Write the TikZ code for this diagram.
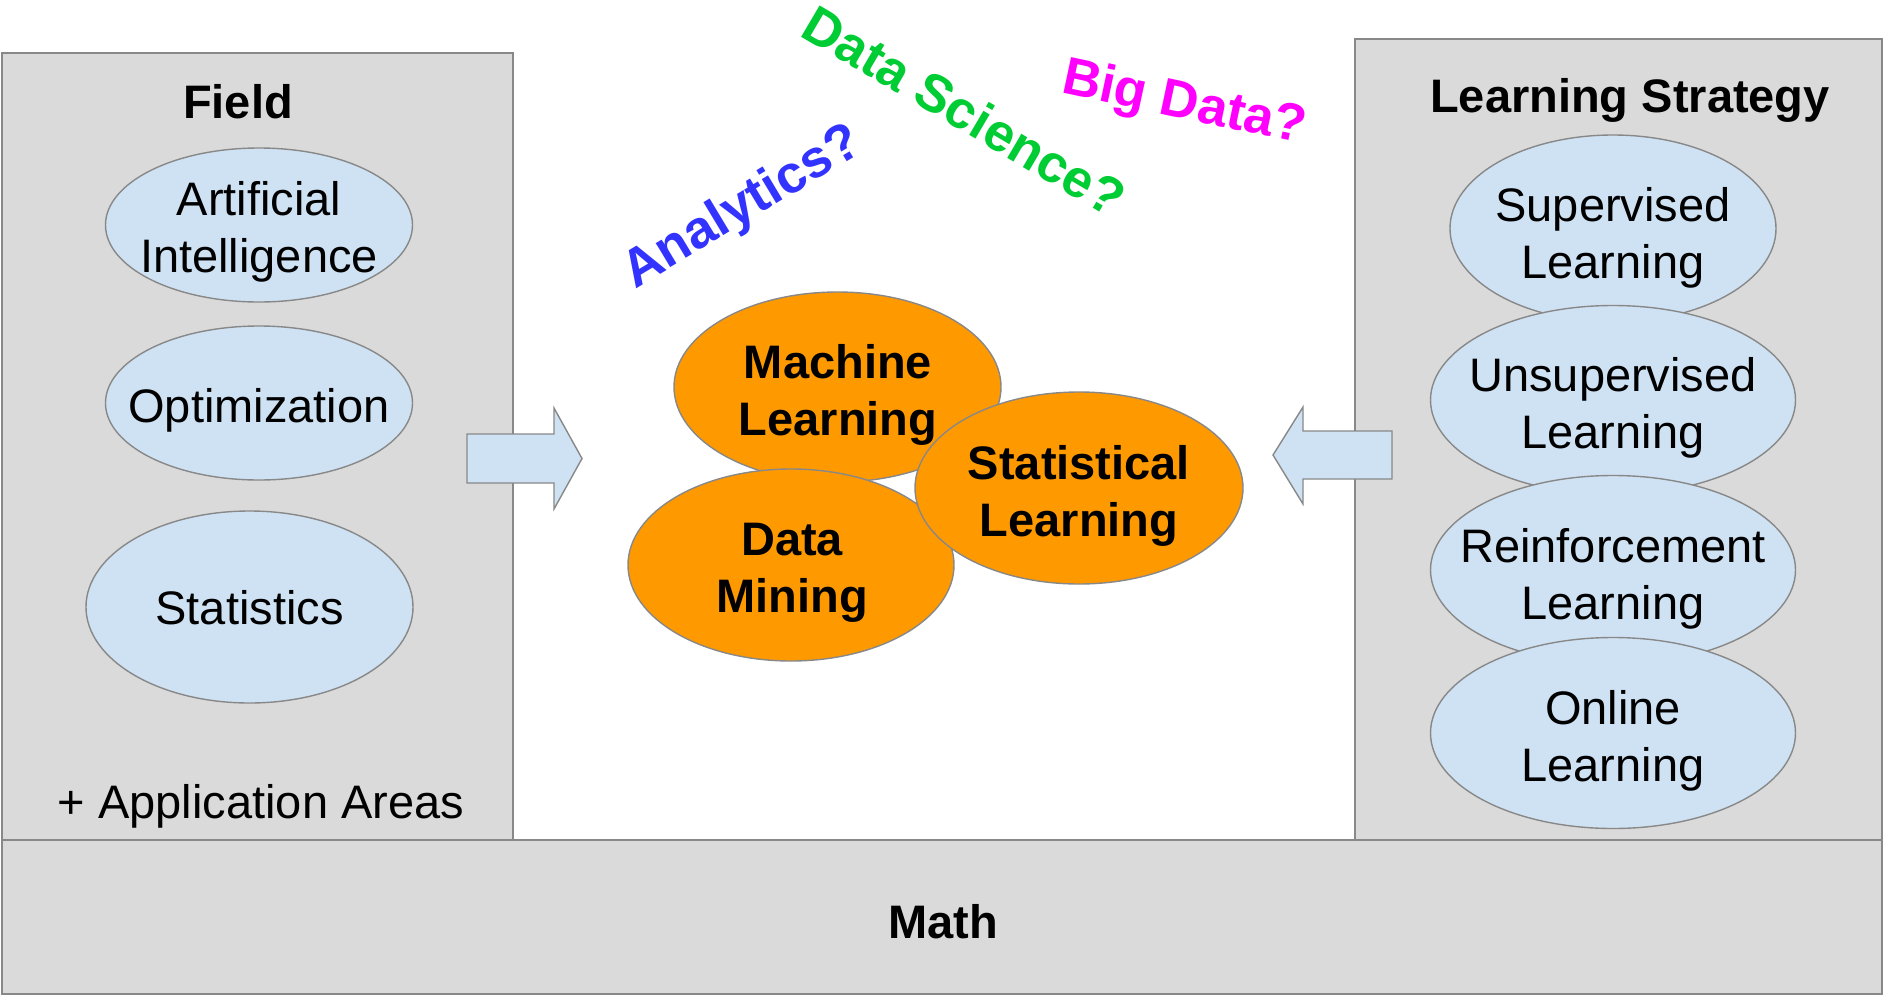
\documentclass[tikz,border=0pt]{standalone}
\usepackage{fontspec}
\setmainfont{Liberation Sans}
\usetikzlibrary{shapes.geometric}
\definecolor{boxgray}{RGB}{218,218,218}
\definecolor{edgegray}{RGB}{136,136,136}
\definecolor{lblue}{RGB}{207,226,243}
\definecolor{orng}{RGB}{255,153,0}
\definecolor{qblue}{RGB}{51,51,255}
\definecolor{qgreen}{RGB}{0,204,51}
\definecolor{qmag}{RGB}{255,0,255}
\begin{document}
\begin{tikzpicture}[x=1pt,y=-1pt,
  panel/.style={rectangle,draw=edgegray,fill=boxgray,line width=1.6pt,inner sep=0pt,anchor=north west},
  ellbase/.style={ellipse,draw=edgegray,line width=1.4pt,inner sep=0pt},
  blueell/.style={ellbase,fill=lblue},
  orangeell/.style={ellbase,fill=orng},
  txt/.style={font=\fontsize{47}{57}\selectfont,align=center,inner sep=0pt},
  btxt/.style={font=\fontsize{47}{57}\selectfont\bfseries,align=center,inner sep=0pt},
  quest/.style={font=\fontsize{53}{63}\selectfont\bfseries,inner sep=0pt,anchor=base},
  blockarrow/.style={draw=edgegray,fill=lblue,line width=1.4pt,line join=miter}]

\useasboundingbox (0,0) rectangle (1883,994);
\fill[white] (0,0) rectangle (1883,994);

% panels
\node[panel,minimum width=511pt,minimum height=787pt] (field) at (1,52) {};
\node[panel,minimum width=527pt,minimum height=801pt] (strategy) at (1354,38) {};
\node[panel,minimum width=1880pt,minimum height=154pt] (math) at (1,839) {};

% titles
\node[btxt,anchor=base] (fieldtitle) at (238,118) {Field};
\node[btxt,anchor=base] (strattitle) at (1630,112) {Learning Strategy};
\node[txt,anchor=base] (apps) at (261,818) {+ Application Areas};
\node[btxt,anchor=base] (mathtitle) at (943,938) {Math};

% field ellipses
\node[blueell,minimum width=307pt,minimum height=154pt] (ai) at (259,225) {};
\node[txt] (aitxt) at (259,232) {Artificial\\Intelligence};
\node[blueell,minimum width=307pt,minimum height=154pt] (opt) at (259,403) {};
\node[txt] (opttxt) at (259,410) {Optimization};
\node[blueell,minimum width=327pt,minimum height=192pt] (stat) at (249.5,607) {};
\node[txt] (stattxt) at (249.5,608) {Statistics};

% strategy ellipses
\node[blueell,minimum width=326pt,minimum height=187pt] (sup) at (1613,228.5) {};
\node[blueell,minimum width=365pt,minimum height=189pt] (unsup) at (1613,400) {};
\node[blueell,minimum width=365pt,minimum height=189pt] (reinf) at (1613,570) {};
\node[blueell,minimum width=365pt,minimum height=191pt] (online) at (1613,733) {};
\node[txt] (suptxt) at (1613,238) {Supervised\\Learning};
\node[txt] (unsuptxt) at (1613,407.5) {Unsupervised\\Learning};
\node[txt] (reinftxt) at (1613,579) {Reinforcement\\Learning};
\node[txt] (onlinetxt) at (1613,741) {Online\\Learning};

% block arrows
\draw[blockarrow] (467,434) -- (554,434) -- (554,408) -- (582,458.5) -- (554,509) -- (554,483) -- (467,483) -- cycle;
\draw[blockarrow] (1392,431) -- (1303,431) -- (1303,407) -- (1273,455) -- (1303,504) -- (1303,479) -- (1392,479) -- cycle;

% orange ellipses
\node[orangeell,minimum width=327pt,minimum height=190pt] (ml) at (837.5,387) {};
\node[orangeell,minimum width=326pt,minimum height=192pt] (dm) at (791,565) {};
\node[orangeell,minimum width=328pt,minimum height=192pt] (sl) at (1079,488) {};
\node[btxt] (mltxt) at (838,395) {Machine\\Learning};
\node[btxt] (dmtxt) at (792,572.5) {Data\\Mining};
\node[btxt] (sltxt) at (1079,496) {Statistical\\Learning};

% buzzwords
\node[quest,text=qblue,rotate=31] (analytics) at (750,220) {Analytics?};
\node[quest,text=qgreen,rotate=-30.5] (datasci) at (955,127) {Data Science?};
\node[quest,text=qmag,rotate=-12] (bigdata) at (1181,118) {Big Data?};
\end{tikzpicture}
\end{document}
